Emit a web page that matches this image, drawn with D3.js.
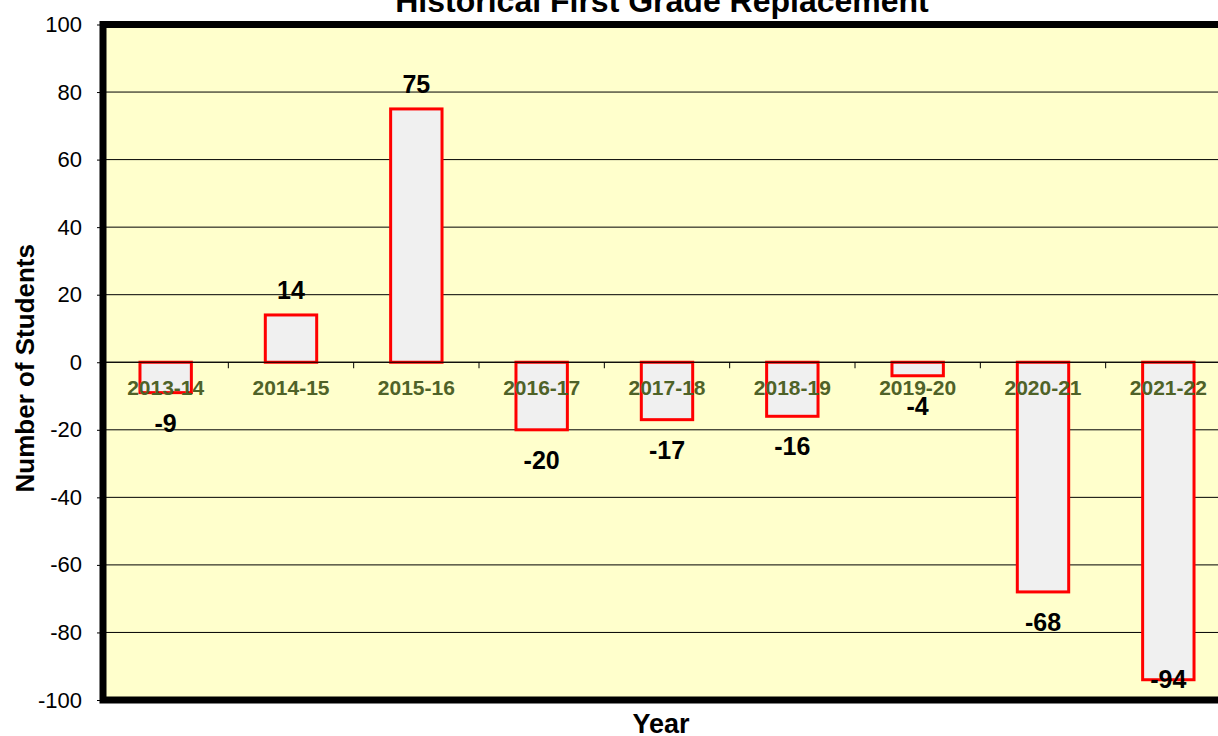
<!DOCTYPE html>
<meta charset="utf-8">
<head>
  <title>Historical First Grade Replacement</title>
  <script src="https://cdn.jsdelivr.net/npm/d3@7"></script>
  <style>
    body { margin: 0; background: #fff; }
    text { font-family: "Liberation Sans", Arial, sans-serif; }
  </style>
</head>
<body>
<div id="chart"></div>
<script>
  // chart data
  var years = ["2013-14", "2014-15", "2015-16", "2016-17", "2017-18", "2018-19", "2019-20", "2020-21", "2021-22"];
  var changes = [-9, 14, 75, -20, -17, -16, -4, -68, -94];
  var yTicks = [-100, -80, -60, -40, -20, 0, 20, 40, 60, 80, 100];

  var w = 1218, h = 736;
  var plotLeft = 103, plotRight = 1231, plotTop = 24.5, plotBottom = 700;

  var svg = d3.select("#chart").append("svg")
    .attr("width", w).attr("height", h);

  var x = d3.scaleBand().domain(years).range([plotLeft, plotRight]).paddingInner(0.59).paddingOuter(0.295);
  var xStep = d3.scaleBand().domain(years).range([plotLeft, plotRight]);
  var y = d3.scaleLinear().domain([-100, 100]).range([plotBottom, plotTop]);

  // plot background
  svg.append("rect")
    .attr("x", plotLeft).attr("y", plotTop)
    .attr("width", plotRight - plotLeft).attr("height", plotBottom - plotTop)
    .attr("fill", "#ffffcc");

  // gridlines
  svg.append("g").selectAll("line")
    .data(yTicks.filter(d => d > -100 && d < 100))
    .enter().append("line")
    .attr("x1", plotLeft).attr("x2", plotRight)
    .attr("y1", d => y(d)).attr("y2", d => y(d))
    .attr("stroke", "#000").attr("stroke-width", 1);

  // y axis (plain hyphen for negatives, like the original)
  var yAxis = svg.append("g")
    .attr("transform", "translate(" + plotLeft + ",0)")
    .call(d3.axisLeft(y).tickValues(yTicks).tickFormat(d => String(d)).tickSize(6).tickPadding(15));
  yAxis.select(".domain").remove();
  yAxis.selectAll("text").attr("font-size", 22).attr("fill", "#000")
    .style("font-family", "'Liberation Sans', Arial, sans-serif");

  // bars
  svg.append("g").selectAll("rect")
    .data(years)
    .enter().append("rect")
    .attr("x", d => x(d))
    .attr("width", x.bandwidth())
    .attr("y", (d, i) => y(Math.max(0, changes[i])))
    .attr("height", (d, i) => Math.abs(y(changes[i]) - y(0)))
    .attr("fill", "#f0f0f0")
    .attr("stroke", "#ff0000")
    .attr("stroke-width", 3);

  // zero axis with ticks between categories
  svg.append("line")
    .attr("x1", plotLeft).attr("x2", plotRight)
    .attr("y1", y(0)).attr("y2", y(0))
    .attr("stroke", "#000").attr("stroke-width", 1);
  svg.append("g").selectAll("line")
    .data(years.slice(1))
    .enter().append("line")
    .attr("x1", d => xStep(d)).attr("x2", d => xStep(d))
    .attr("y1", y(0)).attr("y2", y(0) + 6)
    .attr("stroke", "#000").attr("stroke-width", 1);

  // category labels
  svg.append("g").selectAll("text")
    .data(years)
    .enter().append("text")
    .attr("x", d => x(d) + x.bandwidth() / 2)
    .attr("y", y(0) + 33)
    .attr("text-anchor", "middle")
    .attr("font-size", 21).attr("font-weight", "bold")
    .attr("fill", "#4f6228")
    .text(d => d);

  // value labels
  svg.append("g").selectAll("text")
    .data(years)
    .enter().append("text")
    .attr("x", d => x(d) + x.bandwidth() / 2)
    .attr("y", function(d, i) {
      var v = changes[i];
      if (v >= 0) return y(v) - 16;
      return Math.min(y(v) + 39, plotBottom - 12);
    })
    .attr("text-anchor", "middle")
    .attr("font-size", 25).attr("font-weight", "bold")
    .attr("fill", "#000")
    .text((d, i) => changes[i]);

  // plot border
  svg.append("rect")
    .attr("x", plotLeft).attr("y", plotTop)
    .attr("width", plotRight - plotLeft).attr("height", plotBottom - plotTop)
    .attr("fill", "none").attr("stroke", "#000").attr("stroke-width", 7);

  // titles
  svg.append("text")
    .attr("x", 662).attr("y", 12)
    .attr("text-anchor", "middle")
    .attr("font-size", 32).attr("font-weight", "bold")
    .text("Historical First Grade Replacement");

  svg.append("text")
    .attr("transform", "translate(34," + (y(0) + 6) + ") rotate(-90)")
    .attr("text-anchor", "middle")
    .attr("font-size", 26).attr("font-weight", "bold")
    .text("Number of Students");

  svg.append("text")
    .attr("x", 661).attr("y", 733)
    .attr("text-anchor", "middle")
    .attr("font-size", 27).attr("font-weight", "bold")
    .text("Year");
</script>
</body>
